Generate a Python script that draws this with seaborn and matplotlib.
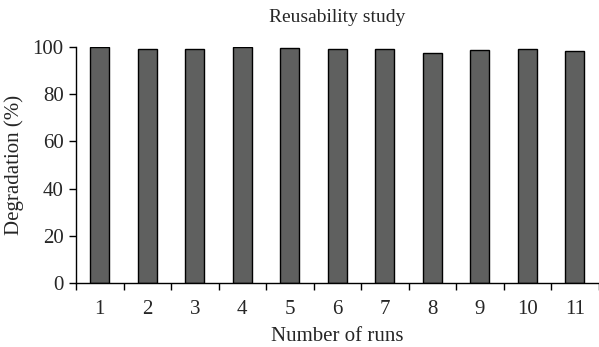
import numpy as np
import pandas as pd
import matplotlib
matplotlib.use("Agg")
import matplotlib.pyplot as plt
import seaborn as sns

runs = ["1", "2", "3", "4", "5", "6", "7", "8", "9", "10", "11"]
degradation = [100.0, 99.2, 99.2, 100.0, 99.7, 99.2, 99.1, 97.3, 98.9, 99.1, 98.5]
yticks = [0, 20, 40, 60, 80, 100]

sns.set_theme(style="ticks")
plt.rcParams['font.family'] = ['Liberation Serif', 'DejaVu Serif']

df = pd.DataFrame({"run": runs, "deg": degradation})

fig = plt.figure(figsize=(5.99, 3.47), dpi=100)
ax = fig.add_axes([76/599, 64/347, 1 - 76/599 - 0.5/599, (283-47)/347])
sns.barplot(data=df, x="run", y="deg", ax=ax, color="#5f605f", saturation=1,
            width=0.4, edgecolor="black", linewidth=1)
ax.set_xlim(-0.5, len(runs) - 0.5)
ax.set_ylim(0, 100)
ax.set_yticks(yticks)
ax.set_yticklabels([str(t) for t in yticks], fontsize=15)
ax.set_xticks(range(len(runs)))
ax.set_xticklabels(runs, fontsize=15)
ax.tick_params(axis="x", which="major", length=0, pad=12)
ax.set_xticks(np.arange(-0.5, len(runs), 1), minor=True)
ax.tick_params(axis="x", which="minor", length=5, width=1, direction="out", color="black")
ax.tick_params(axis="y", length=5, width=1, direction="out", color="black", pad=4)
for s in ["top", "right"]:
    ax.spines[s].set_visible(False)
for s in ["left", "bottom"]:
    ax.spines[s].set_color("black")
    ax.spines[s].set_linewidth(1)
ax.set_xlabel("Number of runs", fontsize=15, labelpad=6)
ax.set_ylabel("Degradation (%)", fontsize=15, labelpad=6)
ax.set_title("Reusability study", fontsize=14, pad=18)
fig.savefig("out.png", dpi=100)
